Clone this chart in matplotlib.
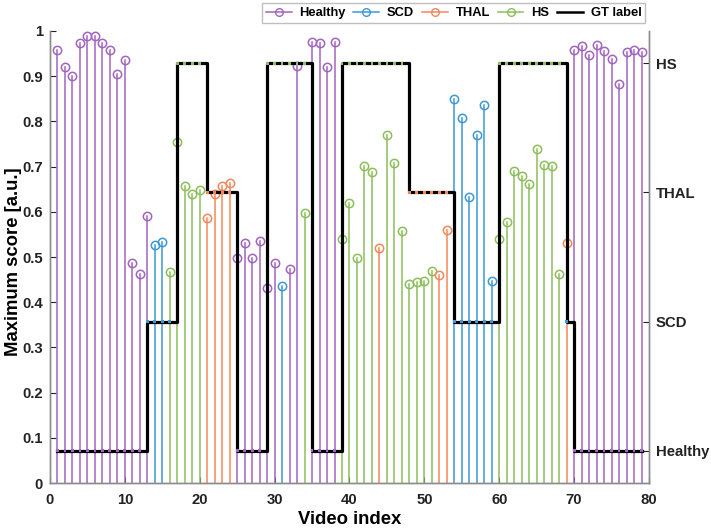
import numpy as np
from matplotlib import pyplot as plt
from matplotlib.lines import Line2D
from matplotlib.legend_handler import HandlerLine2D

# Class names and colours
classes = ['Healthy', 'SCD', 'THAL', 'HS']
colors = ['#A264C0', '#3D98D6', '#F4875A', '#8CBF5A']
levels = [1 / 14, 5 / 14, 9 / 14, 13 / 14]

# Maximum score per video
scores = [0.958, 0.921, 0.900, 0.973, 0.989, 0.989, 0.974, 0.958, 0.905, 0.936,
          0.486, 0.462, 0.591, 0.527, 0.534, 0.466, 0.755, 0.657, 0.639, 0.648,
          0.586, 0.639, 0.656, 0.663, 0.498, 0.530, 0.498, 0.536, 0.431, 0.487,
          0.436, 0.474, 0.923, 0.597, 0.976, 0.973, 0.920, 0.976, 0.539, 0.619,
          0.497, 0.701, 0.687, 0.519, 0.771, 0.709, 0.558, 0.440, 0.444, 0.448,
          0.468, 0.460, 0.560, 0.849, 0.808, 0.632, 0.771, 0.836, 0.446, 0.539,
          0.578, 0.691, 0.679, 0.661, 0.740, 0.704, 0.702, 0.462, 0.530, 0.958,
          0.967, 0.948, 0.968, 0.956, 0.938, 0.883, 0.953, 0.958, 0.954]
# Predicted class per video (0=Healthy, 1=SCD, 2=THAL, 3=HS)
pred = ([0] * 13 + [1] * 2 + [3] * 5 + [2] * 4 + [0] * 6 + [1] + [0] * 2 + [3]
        + [0] * 4 + [3] * 5 + [2] + [3] * 7 + [2] * 2 + [1] * 6 + [3] * 9 + [2] + [0] * 10)
# Ground-truth class per video
gt = ([0] * 12 + [1] * 4 + [3] * 4 + [2] * 4 + [0] * 4 + [3] * 6 + [0] * 4
      + [3] * 9 + [2] * 6 + [1] * 6 + [3] * 9 + [1] + [0] * 10)

idx = np.arange(1, len(scores) + 1)
gt_val = np.array([levels[g] for g in gt])

plt.rcParams['font.family'] = ['Liberation Sans', 'DejaVu Sans']
plt.rcParams['font.weight'] = 'bold'

fig = plt.figure(figsize=(7.11, 5.29), dpi=100)
ax = fig.add_axes([0.0703, 0.0869, 0.8425, 0.8545])

# Stems
for i, s, p in zip(idx, scores, pred):
    ax.plot([i, i], [0, s], color=colors[p], lw=1.1, zorder=2)
    ax.plot(i, s, 'o', mfc='none', mec=colors[p], ms=6, mew=1.1, zorder=3)

# Ground truth staircase
ax.step(idx, gt_val, where='post', color='black', lw=2.3, zorder=4)
ax.scatter(idx, gt_val, s=4, c=[colors[g] for g in gt], marker='s', lw=0, zorder=5)

ax.set_xlim(0, 80)
ax.set_ylim(0, 1)
ax.set_xticks(np.arange(0, 81, 10))
ax.set_yticks(np.arange(0, 1.01, 0.1))
ax.set_yticklabels(['0'] + ['%.1f' % v for v in np.arange(0.1, 0.95, 0.1)] + ['1'])
ax.tick_params(direction='in', labelsize=10.7, colors='#222222', length=4)
ax.tick_params(axis='x', pad=7)
ax.tick_params(axis='y', pad=5)
ax.set_xlabel('Video index', fontsize=13.3, fontweight='bold')
ax.set_ylabel('Maximum score [a.u.]', fontsize=13.3, fontweight='bold')
ax.xaxis.set_label_coords(0.5, -0.061)
ax.yaxis.set_label_coords(-0.047, 0.49)

ax2 = ax.twinx()
ax2.set_ylim(0, 1)
ax2.set_yticks(levels)
ax2.set_yticklabels(classes)
ax2.tick_params(direction='in', labelsize=10.7, colors='#222222', length=4, pad=5)

for a in (ax, ax2):
    a.spines['top'].set_visible(False)
    for sp in ('left', 'right', 'bottom'):
        a.spines[sp].set_color('#8c8c8c')
        a.spines[sp].set_linewidth(1.0)


class RightMarker(HandlerLine2D):
    def get_xdata(self, legend, xdescent, ydescent, width, height, fontsize):
        return [-xdescent, -xdescent + width], [-xdescent + width]


handles = [Line2D([], [], color=c, lw=1.1, marker='o', mfc='none', mec=c, ms=5.5, mew=1.0)
           for c in colors]
handles.append(Line2D([], [], color='black', lw=1.8))
leg = fig.legend(handles, classes + ['GT label'], loc='upper right',
                 bbox_to_anchor=(0.911, 0.999), ncol=5, frameon=True, fancybox=False,
                 handlelength=2.0, handletextpad=0.6, columnspacing=0.6,
                 borderpad=0.3, borderaxespad=0.2, handler_map={Line2D: RightMarker()},
                 prop={'weight': 'bold', 'size': 9.3})
leg.get_frame().set_edgecolor('#b0b0b0')
leg.get_frame().set_linewidth(1.0)

plt.savefig('out.png', dpi=100)
